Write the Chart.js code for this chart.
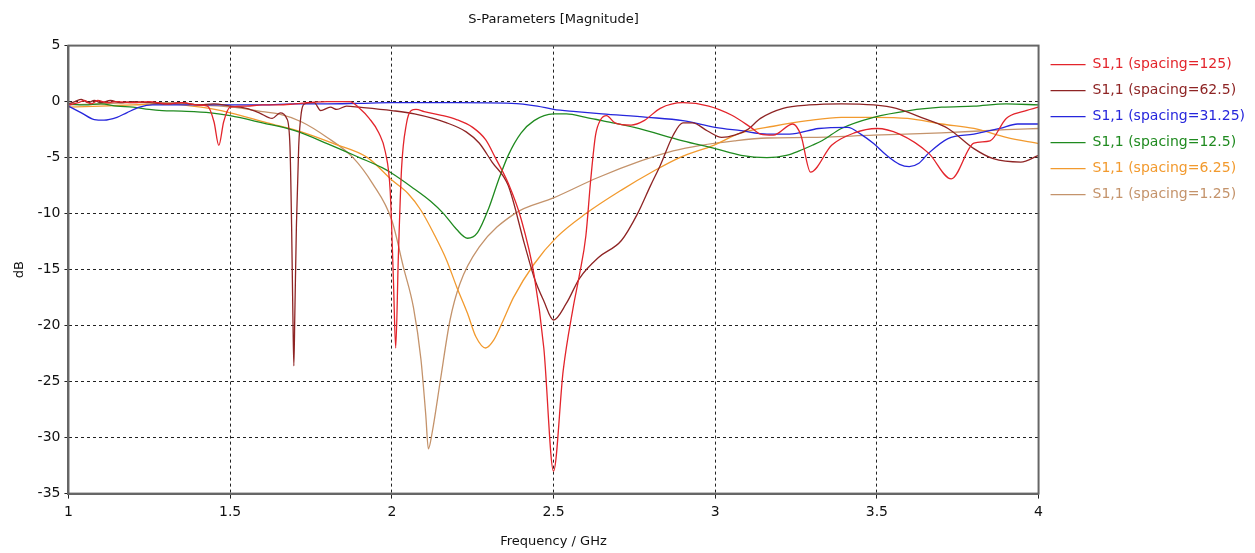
<!DOCTYPE html>
<html>
<head>
<meta charset="utf-8">
<script src="https://cdn.jsdelivr.net/npm/chart.js@4/dist/chart.umd.min.js"></script>
<style>
  html, body { margin: 0; padding: 0; background: #fff; }
  #wrap { width: 1255px; height: 553px; }
</style>
</head>
<body>
<div id="wrap"><canvas id="chart"></canvas></div>
<script>
// S1,1 magnitude in dB. Each series has its own frequency grid
// because the resonance dips sit at different places.
const X_TICKS = [1, 1.5, 2, 2.5, 3, 3.5, 4];
const Y_TICKS = [5, 0, -5, -10, -15, -20, -25, -30, -35];

const freq125 = [1.0, 1.03, 1.05, 1.07, 1.09, 1.12, 1.15, 1.2, 1.25, 1.3, 1.35, 1.4, 1.43, 1.45, 1.465, 1.48, 1.5, 1.55, 1.6, 1.65, 1.7, 1.76, 1.8, 1.87, 1.9, 1.93, 1.96, 1.98, 1.995, 2.005, 2.012, 2.02, 2.03, 2.045, 2.06, 2.075, 2.1, 2.15, 2.2, 2.25, 2.29, 2.32, 2.36, 2.4, 2.44, 2.47, 2.5, 2.53, 2.56, 2.58, 2.6, 2.615, 2.63, 2.646, 2.664, 2.69, 2.74, 2.78, 2.83, 2.9, 2.98, 3.05, 3.11, 3.14, 3.18, 3.24, 3.265, 3.295, 3.36, 3.43, 3.5, 3.57, 3.66, 3.73, 3.8, 3.85, 3.9, 3.95, 4.0];
const db125 = [-0.3, -0.1, 0.1, -0.2, 0.1, -0.1, 0.0, -0.1, 0.0, -0.2, -0.1, -0.3, -0.4, -1.8, -3.9, -1.8, -0.5, -0.4, -0.3, -0.3, -0.2, -0.05, 0.0, 0.0, -0.6, -1.5, -2.8, -4.5, -8, -16, -22, -14, -6, -2, -0.8, -0.7, -0.9, -1.2, -1.6, -2.3, -3.4, -5, -7.3, -10.5, -15.5, -22, -33, -24, -18.5, -15.5, -12, -7, -3, -1.6, -1.25, -1.9, -2.1, -1.7, -0.6, -0.1, -0.4, -1.2, -2.3, -2.9, -3.0, -2.0, -3.0, -6.3, -3.9, -2.8, -2.4, -2.9, -4.6, -6.9, -3.7, -3.5, -1.5, -0.9, -0.5];

const freq62 = [1.0, 1.02, 1.04, 1.06, 1.08, 1.1, 1.13, 1.16, 1.2, 1.25, 1.3, 1.35, 1.4, 1.45, 1.5, 1.55, 1.59, 1.63, 1.655, 1.675, 1.685, 1.69, 1.694, 1.697, 1.7, 1.705, 1.712, 1.72, 1.73, 1.76, 1.78, 1.81, 1.83, 1.86, 1.9, 2.0, 2.07, 2.17, 2.23, 2.27, 2.31, 2.36, 2.41, 2.44, 2.47, 2.5, 2.54, 2.58, 2.64, 2.71, 2.76, 2.8, 2.83, 2.87, 2.9, 2.93, 2.975, 3.02, 3.06, 3.1, 3.14, 3.21, 3.29, 3.39, 3.49, 3.56, 3.645, 3.72, 3.8, 3.86, 3.945, 4.0];
const db62 = [-0.2, 0.0, 0.2, -0.1, 0.1, -0.1, 0.1, -0.1, 0.0, -0.1, -0.2, -0.1, -0.3, -0.2, -0.4, -0.6, -1.0, -1.5, -1.0, -1.5, -4, -11, -19, -23.6, -19, -11, -4, -1, -0.2, -0.1, -0.8, -0.5, -0.7, -0.4, -0.5, -0.8, -1.1, -1.9, -2.7, -3.7, -5.4, -7.5, -12.7, -15.7, -17.8, -19.5, -18, -15.8, -13.9, -12.4, -10, -7.5, -5.7, -3, -1.9, -1.9, -2.6, -3.2, -3.0, -2.5, -1.5, -0.6, -0.3, -0.2, -0.3, -0.6, -1.5, -2.4, -4.2, -5.1, -5.4, -4.8];

const freq31 = [1.0, 1.04, 1.08, 1.11, 1.15, 1.18, 1.22, 1.26, 1.35, 1.5, 1.6, 1.7, 1.8, 1.9, 2.0, 2.2, 2.37, 2.45, 2.5, 2.57, 2.65, 2.79, 2.9, 3.0, 3.08, 3.16, 3.23, 3.32, 3.41, 3.45, 3.49, 3.53, 3.57, 3.6, 3.63, 3.66, 3.72, 3.8, 3.88, 3.935, 4.0];
const db31 = [-0.4, -1.0, -1.6, -1.65, -1.4, -1.0, -0.5, -0.3, -0.3, -0.3, -0.3, -0.2, -0.2, -0.15, -0.1, -0.1, -0.15, -0.4, -0.7, -0.9, -1.1, -1.4, -1.7, -2.3, -2.6, -2.9, -2.9, -2.4, -2.3, -2.9, -3.75, -4.8, -5.6, -5.8, -5.5, -4.6, -3.3, -2.9, -2.4, -2.0, -2.0];

const freq12 = [1.0, 1.05, 1.1, 1.15, 1.2, 1.25, 1.29, 1.35, 1.44, 1.5, 1.6, 1.7, 1.8, 1.9, 1.97, 2.0, 2.06, 2.12, 2.16, 2.2, 2.234, 2.265, 2.3, 2.33, 2.36, 2.4, 2.44, 2.5, 2.54, 2.6, 2.65, 2.75, 2.9, 3.0, 3.08, 3.16, 3.22, 3.26, 3.3, 3.33, 3.39, 3.49, 3.6, 3.7, 3.8, 3.9, 4.0];
const db12 = [-0.2, -0.3, -0.2, -0.4, -0.5, -0.7, -0.8, -0.85, -1.0, -1.25, -1.9, -2.6, -3.75, -5.0, -5.9, -6.4, -7.6, -8.9, -10, -11.4, -12.2, -11.7, -9.5, -7, -4.8, -2.8, -1.7, -1.1, -1.1, -1.4, -1.7, -2.3, -3.5, -4.2, -4.8, -5.0, -4.8, -4.4, -3.9, -3.5, -2.4, -1.4, -0.8, -0.5, -0.4, -0.2, -0.3];

const freq6 = [1.0, 1.1, 1.2, 1.3, 1.41, 1.5, 1.615, 1.72, 1.82, 1.925, 2.0, 2.05, 2.09, 2.13, 2.17, 2.2, 2.234, 2.26, 2.29, 2.315, 2.345, 2.376, 2.44, 2.51, 2.6, 2.71, 2.81, 2.89, 2.995, 3.08, 3.18, 3.286, 3.39, 3.49, 3.595, 3.7, 3.8, 3.9, 4.0];
const db6 = [-0.5, -0.4, -0.3, -0.2, -0.5, -1.0, -1.9, -2.7, -3.75, -5.0, -7.0, -8.2, -9.7, -11.8, -14.2, -16.5, -18.9, -21, -22, -21.3, -19.5, -17.5, -14.5, -12.1, -10, -7.9, -6.2, -5.0, -3.9, -2.8, -2.2, -1.7, -1.4, -1.4, -1.5, -2.0, -2.4, -3.2, -3.75];

const freq1 = [1.0, 1.1, 1.2, 1.3, 1.4, 1.51, 1.6, 1.65, 1.72, 1.8, 1.88, 1.94, 2.0, 2.036, 2.067, 2.09, 2.105, 2.113, 2.125, 2.15, 2.18, 2.21, 2.27, 2.38, 2.5, 2.636, 2.77, 2.87, 2.955, 3.06, 3.16, 3.29, 3.49, 3.7, 3.9, 4.0];
const db1 = [-0.3, -0.2, -0.1, -0.1, -0.3, -0.5, -0.9, -1.1, -1.8, -3.2, -5.0, -7.3, -10.6, -14.8, -18.4, -23, -28, -31, -29.5, -24.9, -19.5, -16.3, -13, -10, -8.6, -6.8, -5.3, -4.4, -3.9, -3.5, -3.25, -3.2, -3.0, -2.8, -2.5, -2.4];

const SERIES = [
  { label: "S1,1 (spacing=125)", freq: freq125, db: db125, color: "#e3242b" },
  { label: "S1,1 (spacing=62.5)", freq: freq62, db: db62, color: "#8e2424" },
  { label: "S1,1 (spacing=31.25)", freq: freq31, db: db31, color: "#2626dc" },
  { label: "S1,1 (spacing=12.5)", freq: freq12, db: db12, color: "#1f8a1f" },
  { label: "S1,1 (spacing=6.25)", freq: freq6, db: db6, color: "#f29a2e" },
  { label: "S1,1 (spacing=1.25)", freq: freq1, db: db1, color: "#c4936b" },
];

const FONT = "'DejaVu Sans', Tahoma, sans-serif";

// frame around the plot area (top/right edges are not drawn by the axes)
const frame = {
  id: "frame",
  afterDraw(chart) {
    const { ctx, chartArea: a } = chart;
    ctx.save();
    ctx.strokeStyle = "#666";
    ctx.lineWidth = 2;
    ctx.strokeRect(a.left, a.top, a.right - a.left, a.bottom - a.top);
    ctx.restore();
  },
};

new Chart(document.getElementById("chart"), {
  type: "line",
  data: {
    datasets: SERIES.map((s) => ({
      label: s.label,
      data: s.freq.map((f, i) => ({ x: f, y: s.db[i] })),
      borderColor: s.color,
      backgroundColor: s.color,
      borderWidth: 1.3,
      pointRadius: 0,
      cubicInterpolationMode: "monotone",
    })),
  },
  options: {
    responsive: true,
    maintainAspectRatio: false,
    animation: false,
    layout: { padding: { left: 12, right: 0, top: 0, bottom: 4 } },
    plugins: {
      tooltip: { enabled: false },
      title: {
        display: true,
        text: "S-Parameters [Magnitude]",
        fullSize: false,
        color: "#111",
        font: { family: FONT, size: 13, weight: "normal" },
        padding: { top: 12, bottom: 18 },
      },
      legend: {
        position: "right",
        align: "start",
        fullSize: false,
        labels: {
          usePointStyle: true,
          pointStyle: "line",
          pointStyleWidth: 35,
          padding: 12,
          font: { family: FONT, size: 14 },
          generateLabels(chart) {
            return chart.data.datasets.map((ds, i) => ({
              text: ds.label,
              fillStyle: ds.borderColor,
              strokeStyle: ds.borderColor,
              fontColor: ds.borderColor,
              lineWidth: 1.3,
              pointStyle: "line",
              hidden: false,
              datasetIndex: i,
            }));
          },
        },
      },
    },
    scales: {
      x: {
        type: "linear",
        min: 1,
        max: 4,
        afterBuildTicks: (axis) => { axis.ticks = X_TICKS.map((v) => ({ value: v })); },
        ticks: { color: "#111", font: { family: FONT, size: 14 }, padding: 5, maxRotation: 0, callback: (v) => String(v) },
        grid: { color: "#222", lineWidth: 1, tickLength: 5, drawTicks: true },
        border: { display: true, color: "#666", width: 2, dash: [3, 3] },
        title: {
          display: true,
          text: "Frequency / GHz",
          color: "#111",
          font: { family: FONT, size: 13 },
          padding: { top: 8, bottom: 0 },
        },
      },
      y: {
        type: "linear",
        min: -35,
        max: 5,
        afterBuildTicks: (axis) => { axis.ticks = Y_TICKS.map((v) => ({ value: v })); },
        ticks: { color: "#111", font: { family: FONT, size: 14 }, padding: 4, callback: (v) => String(v) },
        grid: { color: "#222", lineWidth: 1, tickLength: 4 },
        border: { display: true, color: "#666", width: 2, dash: [3, 3] },
        title: {
          display: true,
          text: "dB",
          color: "#111",
          font: { family: FONT, size: 13 },
          padding: { top: 0, bottom: 6 },
        },
      },
    },
  },
  plugins: [frame],
});
</script>
</body>
</html>
